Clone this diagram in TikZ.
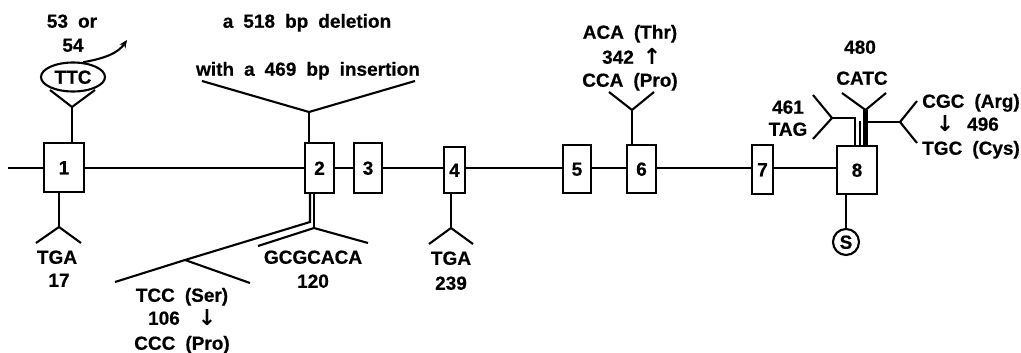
\documentclass[tikz,border=0pt]{standalone}
\usepackage{fontspec}
\newfontfamily\labf{Liberation Sans}[UprightFont={* Bold},FakeBold=0.5,WordSpace=1.9]
\newfontfamily\arrf{DejaVu Sans}[UprightFont={* Bold}]
\usetikzlibrary{arrows.meta,shapes.geometric}
\tikzset{
  lbl/.style={font={\labf\fontsize{19}{21}\selectfont}, inner sep=0pt, text height=13.5pt, text depth=0pt},
  arr/.style={font={\arrf\fontsize{22}{24}\selectfont}, inner sep=0pt, text height=15pt, text depth=0pt},
  exon/.style={draw, line width=2.1pt, fill=white, inner sep=0pt, lbl},
  ln/.style={line width=2.1pt},
}
\begin{document}
\begin{tikzpicture}[x=1pt,y=-1pt]
\useasboundingbox (0,0) rectangle (1021,353);
% exons
\node[exon, minimum width=40pt, minimum height=49pt] (b1) at (64,167.5) {1};
\node[exon, minimum width=29pt, minimum height=50pt] (b2) at (319.5,168) {2};
\node[exon, minimum width=28pt, minimum height=50pt] (b3) at (368,168) {3};
\node[exon, minimum width=21pt, minimum height=46pt] (b4) at (454.5,170) {4};
\node[exon, minimum width=28pt, minimum height=48pt] (b5) at (577,169) {5};
\node[exon, minimum width=29pt, minimum height=48pt] (b6) at (641.5,169) {6};
\node[exon, minimum width=21pt, minimum height=49pt] (b7) at (762.5,169.5) {7};
\node[exon, minimum width=40pt, minimum height=48pt] (b8) at (857,170) {8};
% main line
\coordinate (L) at (8,168);
\draw[ln] (L) -- (L -| b1.west);
\draw[ln] (b1.east |- L) -- (L -| b2.west);
\draw[ln] (b2.east |- L) -- (L -| b3.west);
\draw[ln] (b3.east |- L) -- (L -| b4.west);
\draw[ln] (b4.east |- L) -- (L -| b5.west);
\draw[ln] (b5.east |- L) -- (L -| b6.west);
\draw[ln] (b6.east |- L) -- (L -| b7.west);
\draw[ln] (b7.east |- L) -- (L -| b8.west);

% exon 1 top: TTC
\node[lbl] (n53) at (72,21) {53 or};
\node[lbl] (n54) at (73,45) {54};
\node[draw, ellipse, line width=2.1pt, minimum width=64pt, minimum height=29pt, inner sep=0pt, lbl] (ttc) at (73,77) {TTC};
\coordinate (y1) at (72,107);
\draw[ln] (y1 |- b1.north) -- (y1);
\draw[ln] (50,90) -- (y1) -- (95,90);
\coordinate (arrtip) at (127,40);
\draw[ln, -{Stealth[length=8pt,width=7pt]}] (ttc.55) .. controls (106,58) and (118,53) .. (arrtip);

% exon 1 bottom: TGA 17
\coordinate (y1b) at (59,227);
\draw[ln] (y1b |- b1.south) -- (y1b);
\draw[ln] (36,243) -- (y1b) -- (81,243);
\node[lbl] (tga1) at (57,257) {TGA};
\node[lbl] (n17) at (59,280) {17};

% exon 2 top: deletion/insertion
\node[lbl] (del) at (307,21) {a 518 bp deletion};
\node[lbl] (ins) at (308,69) {with a 469 bp insertion};
\coordinate (y2) at (309,112);
\draw[ln] (y2 |- b2.north) -- (y2);
\draw[ln] (202,81) -- (y2) -- (415,81);

% exon 2 bottom: double connector
\coordinate (d1) at (310,222);
\coordinate (tccy) at (185,260);
\draw[ln] (d1 |- b2.south) -- (d1) -- (tccy) -- (115,282);
\draw[ln] (tccy) -- (250,283);
\coordinate (gcy) at (314,228);
\draw[ln] (gcy |- b2.south) -- (gcy);
\draw[ln] (258,246) -- (gcy) -- (368,243);
\node[lbl] (tcc) at (182,295) {TCC (Ser)};
\node[lbl] (n106) at (164,318) {106};
\node[arr] (dn1) at (207,318) {↓};
\node[lbl] (ccc) at (182,343) {CCC (Pro)};
\node[lbl] (gcg) at (313,257) {GCGCACA};
\node[lbl] (n120) at (313,281) {120};

% exon 4 bottom
\coordinate (y4) at (451,228);
\draw[ln] (y4 |- b4.south) -- (y4);
\draw[ln] (429,244) -- (y4) -- (473,244);
\node[lbl] (tga4) at (451,258) {TGA};
\node[lbl] (n239) at (451,283) {239};

% exon 6 top
\coordinate (y6) at (632,110);
\draw[ln] (y6 |- b6.north) -- (y6);
\draw[ln] (609,92) -- (y6) -- (654,92);
\node[lbl] (aca) at (630,32) {ACA (Thr)};
\node[lbl] (n342) at (618,57) {342};
\node[arr] (up6) at (652,57) {↑};
\node[lbl] (cca) at (630,80) {CCA (Pro)};

% exon 8 bottom: S
\node[draw, circle, line width=2.1pt, minimum size=26pt, inner sep=0pt, lbl] (sn) at (846,242) {S};
\draw[ln] (sn.north |- b8.south) -- (sn.north);

% exon 8 top
\coordinate (tagc) at (855,118);
\coordinate (tagy) at (832,118);
\draw[ln] (tagc |- b8.north) -- (tagc) -- (tagy);
\draw[ln] (813,95) -- (tagy) -- (813,139);
\coordinate (inn) at (860,121);
\draw[line width=1.8pt] (inn |- b8.north) -- (inn);
\coordinate (caty) at (865.5,110);
\draw[line width=4.5pt] (caty |- b8.north) -- (caty);
\draw[ln] (842,93) -- (caty) -- (886,93);
\coordinate (cgs) at (867,122);
\coordinate (cgy) at (900,122);
\draw[ln] (cgs) -- (cgy);
\draw[ln] (917,101) -- (cgy) -- (917,143);
\node[lbl] (n480) at (860,47) {480};
\node[lbl] (catc) at (862,78) {CATC};
\node[lbl] (n461) at (788,107) {461};
\node[lbl] (tag) at (788,129) {TAG};
\node[lbl, anchor=west] (cgc) at (922,101) {CGC (Arg)};
\node[arr] (dn8) at (945,124) {↓};
\node[lbl] (n496) at (983,124) {496};
\node[lbl, anchor=west] (tgc) at (922,148) {TGC (Cys)};
\end{tikzpicture}
\end{document}
